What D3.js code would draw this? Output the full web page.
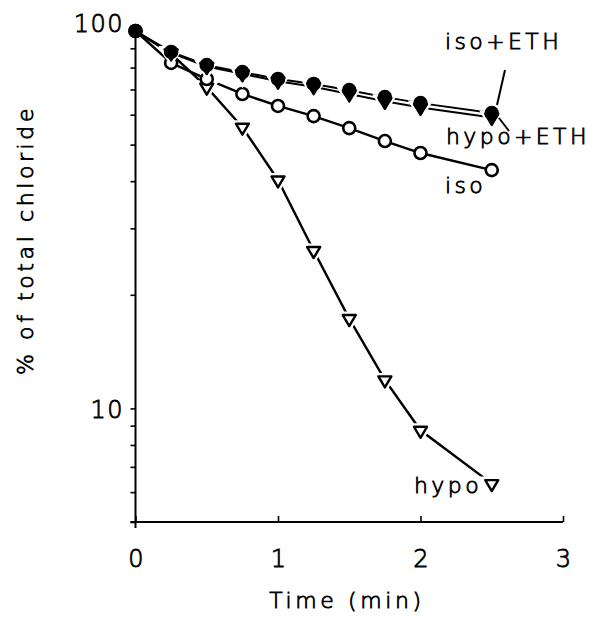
<!DOCTYPE html>
<meta charset="utf-8">
<style>
body { margin: 0; background: #fff; }
svg { display: block; }
text { font-family: "DejaVu Sans", "Liberation Sans", sans-serif; font-weight: 200; fill: #000; stroke: #000; stroke-width: 0.8px; }
.tick-label { font-size: 24px; letter-spacing: 1.5px; }
.series-label { font-size: 22px; letter-spacing: 3.4px; }
.axis-title { font-size: 22px; letter-spacing: 3.6px; }
</style>
<svg width="596" height="617"></svg>
<script src="https://d3js.org/d3.v7.min.js"></script>
<script>

var times = [0, 0.25, 0.5, 0.75, 1.0, 1.25, 1.5, 1.75, 2.0, 2.5];

var isoEth  = [100, 88, 81.2, 77.8, 74.6, 72.4, 69.7, 66.8, 64.4, 60.6];
var hypoEth = [100, 87.5, 80.5, 77, 73.6, 71.2, 68.1, 65.1, 62.7, 59];
var iso     = [100, 82.3, 74.6, 68.1, 63.3, 59.5, 55.3, 51.1, 47.5, 42.8];
var hypo    = [100, 87, 71, 55.6, 40.3, 26.2, 17.3, 11.9, 8.75, 6.32];

var xTicks = [0, 1, 2, 3];
var yTicks = [5, 6, 7, 8, 9, 10, 20, 30, 40, 50, 60, 70, 80, 90, 100];
var yLabels = [10, 100];

var svg = d3.select("svg");

var x = d3.scaleLinear().domain([0, 3]).range([135.5, 563]);
var y = d3.scaleLog().domain([5, 100]).range([522, 31]);

// axes
var yAxis = d3.axisLeft(y)
    .tickValues(yTicks)
    .tickSize(5)
    .tickFormat(function(d) { return yLabels.indexOf(d) >= 0 ? d : ""; });

var gy = svg.append("g")
    .attr("transform", "translate(" + x(0) + ",0)")
    .call(yAxis);
gy.select(".domain").remove();
gy.selectAll(".tick line").attr("stroke", "#000").attr("stroke-width", 1.6);
gy.selectAll(".tick text")
    .attr("class", "tick-label")
    .attr("x", -11.5)
    .attr("dy", "0.36em")
    .attr("font-size", null)
    .attr("font-family", null);
gy.selectAll(".tick").filter(function(d) { return d === 100; })
    .select("text").attr("dy", "0.04em");
gy.append("line")
    .attr("x1", 0).attr("x2", 0)
    .attr("y1", y(100) - 2).attr("y2", y(5) + 6)
    .attr("stroke", "#000").attr("stroke-width", 2);

var xAxis = d3.axisBottom(x)
    .tickValues(xTicks)
    .tickSize(-6)
    .tickPadding(28)
    .tickFormat(d3.format("d"));

var gx = svg.append("g")
    .attr("transform", "translate(0," + y(5) + ")")
    .call(xAxis);
gx.select(".domain").remove();
gx.selectAll(".tick line").attr("stroke", "#000").attr("stroke-width", 1.6);
gx.selectAll(".tick text")
    .attr("class", "tick-label")
    .attr("dx", "0.75")
    .attr("font-size", null)
    .attr("font-family", null);
gx.append("line")
    .attr("x1", x(0) - 5).attr("x2", x(3))
    .attr("y1", 0).attr("y2", 0)
    .attr("stroke", "#000").attr("stroke-width", 2);

svg.append("text")
    .attr("class", "axis-title")
    .attr("x", 347).attr("y", 608)
    .attr("text-anchor", "middle")
    .text("Time (min)");

svg.append("text")
    .attr("class", "axis-title")
    .attr("transform", "translate(33,240) rotate(-90)")
    .attr("text-anchor", "middle")
    .text("% of total chloride");

// series
var line = d3.line()
    .x(function(d) { return x(d[0]); })
    .y(function(d) { return y(d[1]); });

function pts(vals) { return times.map(function(t, i) { return [t, vals[i]]; }); }

var tri = "M-6.5,-4.5L6.5,-4.5L0,6.5Z";

function drawLine(vals, w) {
  svg.append("path")
      .datum(pts(vals))
      .attr("d", line)
      .attr("fill", "none")
      .attr("stroke", "#000")
      .attr("stroke-width", w);
}

drawLine(hypo, 2.4);
drawLine(iso, 2.4);
drawLine(hypoEth, 2);
drawLine(isoEth, 2);

function drawTri(vals, filled) {
  var g = svg.append("g");
  g.selectAll("path.halo")
    .data(pts(vals).slice(1))
    .enter().append("path")
      .attr("class", "halo")
      .attr("d", tri)
      .attr("transform", function(d) { return "translate(" + x(d[0]) + "," + (y(d[1]) + 1) + ")"; })
      .attr("fill", "#fff")
      .attr("stroke", "#fff")
      .attr("stroke-width", 7);
  g.selectAll("path.mk")
    .data(pts(vals).slice(1))
    .enter().append("path")
      .attr("class", "mk")
      .attr("d", tri)
      .attr("transform", function(d) { return "translate(" + x(d[0]) + "," + (y(d[1]) + 1) + ")"; })
      .attr("fill", filled ? "#000" : "#fff")
      .attr("stroke", "#000")
      .attr("stroke-width", 2.4)
      .attr("stroke-linejoin", "round");
}

function drawCircles(vals, filled) {
  svg.append("g").selectAll("circle")
    .data(pts(vals))
    .enter().append("circle")
      .attr("cx", function(d) { return x(d[0]); })
      .attr("cy", function(d) { return y(d[1]); })
      .attr("r", 6)
      .attr("fill", filled ? "#000" : "#fff")
      .attr("stroke", "#000")
      .attr("stroke-width", 2.6);
}

drawTri(hypo, false);
drawCircles(iso, false);
drawTri(hypoEth, true);
drawCircles(isoEth, true);

// labels and leaders
svg.append("line")
    .attr("x1", 505).attr("y1", 70).attr("x2", 497).attr("y2", 105)
    .attr("stroke", "#000").attr("stroke-width", 2);
svg.append("line")
    .attr("x1", 499).attr("y1", 118).attr("x2", 509).attr("y2", 131)
    .attr("stroke", "#000").attr("stroke-width", 2);

svg.append("text").attr("class", "series-label").attr("x", 445).attr("y", 49).text("iso+ETH");
svg.append("text").attr("class", "series-label").attr("x", 446).attr("y", 144).text("hypo+ETH");
svg.append("text").attr("class", "series-label").attr("x", 445).attr("y", 193).text("iso");
svg.append("text").attr("class", "series-label").attr("x", 414).attr("y", 493).text("hypo");

</script>
